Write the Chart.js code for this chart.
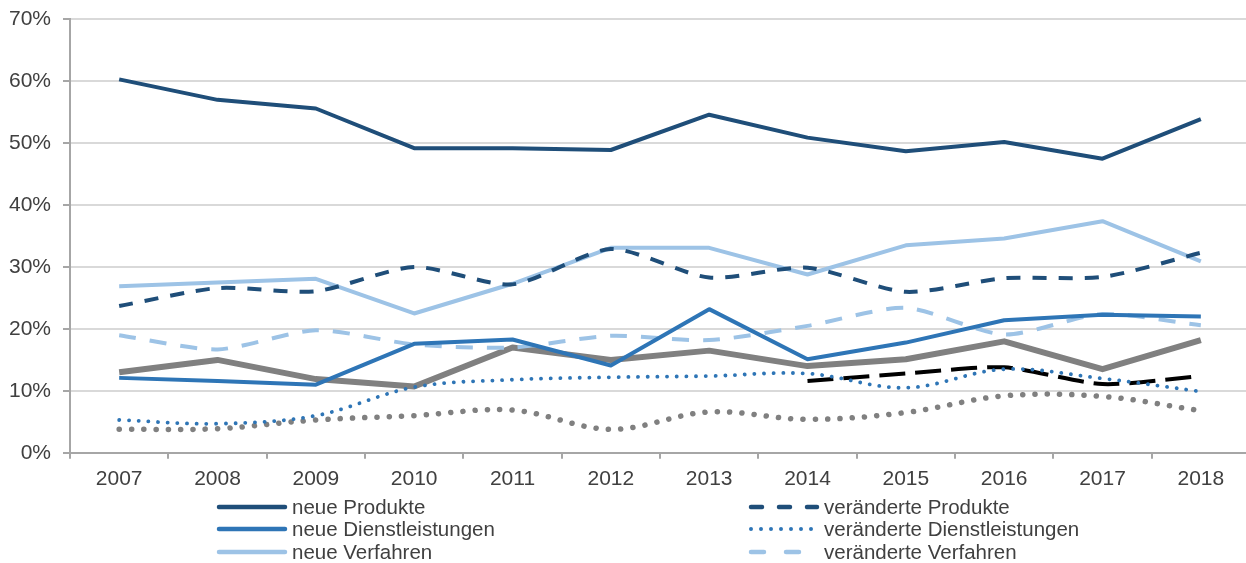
<!DOCTYPE html>
<html lang="de">
<head>
<meta charset="utf-8">
<title>Innovationen 2007–2018</title>
<script src="https://cdn.jsdelivr.net/npm/chart.js@4.4.1/dist/chart.umd.min.js"></script>
<style>
    html, body { margin: 0; padding: 0; background: #ffffff; overflow: hidden; }
    #rahmen { position: relative; width: 1250px; height: 563px; }
    #legende { position: absolute; left: 0; top: 0; width: 1250px; height: 563px; pointer-events: none; }
    .eintrag { position: absolute; height: 22px; display: flex; align-items: center;
               font-family: "Liberation Sans", Arial, sans-serif; font-size: 20.5px; color: #404040; white-space: nowrap; }
    .eintrag svg { margin-right: 4px; }
</style>
</head>
<body>
<div id="rahmen">
    <canvas id="grafik"></canvas>
    <div id="legende"></div>
</div>
<script>
"use strict";

// Daten (Anteile in %)
const jahre = ["2007", "2008", "2009", "2010", "2011", "2012", "2013", "2014", "2015", "2016", "2017", "2018"];
const yTicks = [0, 10, 20, 30, 40, 50, 60, 70];

const neueProdukte = [60.3, 57.0, 55.6, 49.2, 49.2, 48.9, 54.6, 50.9, 48.7, 50.2, 47.5, 53.9];
const veraenderteProdukte = [23.7, 26.6, 26.1, 30.0, 27.2, 32.9, 28.3, 29.9, 26.0, 28.2, 28.4, 32.3];
const neueDienstleistungen = [12.1, 11.6, 11.0, 17.6, 18.3, 14.1, 23.2, 15.1, 17.8, 21.4, 22.3, 22.0];
const veraenderteDienstleistungen = [5.3, 4.7, 6.0, 10.6, 11.8, 12.2, 12.4, 12.8, 10.5, 13.5, 12.0, 9.9];
const neueVerfahren = [26.9, 27.5, 28.1, 22.5, 27.3, 33.1, 33.1, 28.8, 33.5, 34.6, 37.4, 30.9];
const veraenderteVerfahren = [19.0, 16.7, 19.8, 17.5, 17.0, 18.9, 18.2, 20.5, 23.4, 19.1, 22.4, 20.6];
const grauDurchgezogen = [13.0, 15.0, 11.9, 10.7, 17.0, 15.0, 16.5, 14.0, 15.1, 18.0, 13.5, 18.2];
const grauPunktiert = [3.8, 3.9, 5.3, 6.0, 6.9, 3.8, 6.6, 5.4, 6.5, 9.2, 9.1, 6.8];
const schwarzGestrichelt = [null, null, null, null, null, null, null, 11.6, 12.8, 13.8, 11.1, 12.4];

const NAVY = "#1f4e79";
const BLAU = "#2e75b6";
const HELLBLAU = "#9dc3e6";
const GRAU = "#808080";

Chart.defaults.font.family = "'Liberation Sans', Arial, sans-serif";
Chart.defaults.font.size = 21;
Chart.defaults.color = "#404040";

function linie(label, data, farbe, breite, dash, spannung, legende, muster) {
    return {
        label: label,
        data: data,
        borderColor: farbe,
        backgroundColor: farbe,
        borderWidth: breite,
        borderDash: dash,
        borderCapStyle: dash.length && dash[0] < 1 ? "round" : "butt",
        borderJoinStyle: "round",
        tension: spannung,
        pointRadius: 0,
        fill: false,
        spanGaps: false,
        legende: legende,
        muster: muster
    };
}

const datensaetze = [
    linie("neue Produkte", neueProdukte, NAVY, 4, [], 0, true, { dash: "", cap: "round", w: 4.5 }),
    linie("veränderte Produkte", veraenderteProdukte, NAVY, 4, [14, 12], 0.25, true, { dash: "11 17", cap: "round", w: 4.5 }),
    linie("neue Dienstleistungen", neueDienstleistungen, BLAU, 4, [], 0, true, { dash: "", cap: "round", w: 4.5 }),
    linie("veränderte Dienstleistungen", veraenderteDienstleistungen, BLAU, 3.8, [0.1, 9.6], 0.35, true, { dash: "0 10", cap: "round", w: 4 }),
    linie("neue Verfahren", neueVerfahren, HELLBLAU, 4, [], 0, true, { dash: "", cap: "round", w: 4.5 }),
    linie("veränderte Verfahren", veraenderteVerfahren, HELLBLAU, 4, [17, 14], 0.25, true, { dash: "13 22", cap: "round", w: 4.5 }),
    linie("Innovationen gesamt", grauDurchgezogen, GRAU, 6, [], 0, false, null),
    linie("Innovationen gesamt (verändert)", grauPunktiert, GRAU, 5.5, [0.1, 12.2], 0.35, false, null),
    linie("Vergleichswert", schwarzGestrichelt, "#000000", 4, [26, 10], 0.25, false, null)
];

const grafik = new Chart(document.getElementById("grafik"), {
    type: "line",
    data: {
        labels: jahre,
        datasets: datensaetze
    },
    options: {
        responsive: true,
        maintainAspectRatio: false,
        animation: false,
        layout: {
            padding: { left: 0, right: 0, top: 18, bottom: 63 }
        },
        plugins: {
            legend: { display: false },
            tooltip: { enabled: false }
        },
        scales: {
            x: {
                offset: true,
                grid: {
                    offset: true,
                    drawOnChartArea: false,
                    drawTicks: true,
                    tickLength: 6,
                    color: "#a6a6a6",
                    lineWidth: 2
                },
                border: { color: "#a6a6a6", width: 2 },
                ticks: { padding: 8, color: "#404040", maxRotation: 0, autoSkip: false }
            },
            y: {
                min: 0,
                max: 70,
                afterBuildTicks: function (achse) {
                    achse.ticks = yTicks.map(function (v) { return { value: v }; });
                },
                afterFit: function (achse) {
                    achse.width = 70;
                },
                grid: {
                    color: "#d9d9d9",
                    lineWidth: 2,
                    tickColor: "#a6a6a6",
                    tickLength: 7
                },
                border: { color: "#a6a6a6", width: 2 },
                ticks: {
                    padding: 12,
                    color: "#404040",
                    font: { lineHeight: 0.7 },
                    callback: function (v) { return v + "%"; }
                }
            }
        }
    }
});

// Legende: zwei Spalten, drei Zeilen, aus den Datensätzen erzeugt
const spaltenX = [216, 748];
const zeilenY = [507, 529, 552];
const legendeBox = document.getElementById("legende");

grafik.data.datasets.filter(function (d) { return d.legende; }).forEach(function (d, i) {
    const spalte = i % 2;
    const zeile = Math.floor(i / 2);
    const m = d.muster;
    const el = document.createElement("div");
    el.className = "eintrag";
    el.style.left = spaltenX[spalte] + "px";
    el.style.top = (zeilenY[zeile] - 11) + "px";
    el.innerHTML =
        '<svg width="72" height="10"><line x1="3" y1="5" x2="69" y2="5" stroke="' + d.borderColor +
        '" stroke-width="' + m.w + '" stroke-linecap="' + m.cap + '"' +
        (m.dash ? ' stroke-dasharray="' + m.dash + '"' : "") + '/></svg>';
    const txt = document.createElement("span");
    txt.textContent = d.label;
    el.appendChild(txt);
    legendeBox.appendChild(el);
});
</script>
</body>
</html>
